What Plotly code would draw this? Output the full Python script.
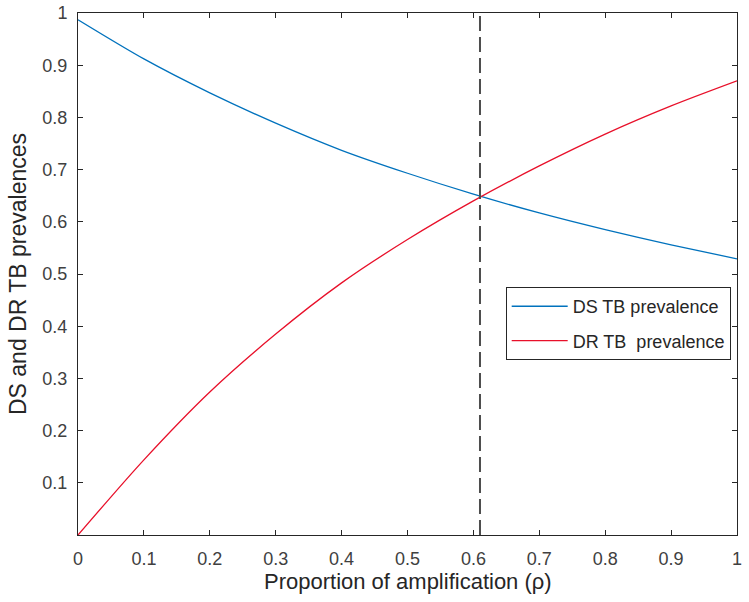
import plotly.graph_objects as go

rho = [0.0, 0.1, 0.2, 0.3, 0.4, 0.5, 0.6, 0.7, 0.8, 0.9, 1.0]
ds_prev = [0.987, 0.912, 0.847, 0.789, 0.737, 0.693, 0.653, 0.617, 0.585, 0.556, 0.529]
dr_prev = [0.0, 0.144, 0.274, 0.385, 0.483, 0.566, 0.640, 0.707, 0.768, 0.822, 0.870]
threshold = 0.61
xticks = [0, 0.1, 0.2, 0.3, 0.4, 0.5, 0.6, 0.7, 0.8, 0.9, 1]
yticks = [0.1, 0.2, 0.3, 0.4, 0.5, 0.6, 0.7, 0.8, 0.9, 1]
x_title = "Proportion of amplification (ρ)"
y_title = "DS and DR TB prevalences"

FONT = "Liberation Sans, Arial"

fig = go.Figure()
fig.add_trace(go.Scatter(x=rho, y=ds_prev, mode="lines", name="DS TB prevalence", legendgroup="a",
                         line=dict(color="#0072BD", width=1.3, shape="spline", smoothing=0.8)))
fig.add_trace(go.Scatter(x=rho, y=dr_prev, mode="lines", name="DR TB  prevalence", legendgroup="b",
                         line=dict(color="#E8102A", width=1.3, shape="spline", smoothing=0.8)))
fig.add_trace(go.Scatter(x=[threshold, threshold], y=[0, 1], mode="lines", showlegend=False,
                         line=dict(color="#4d4d4d", width=2, dash="15px,6px")))

axis_common = dict(showgrid=False, zeroline=False, showline=True, linecolor="#262626", linewidth=1,
                   mirror="allticks", ticks="inside", ticklen=5, tickcolor="#262626",
                   automargin=False,
                   tickfont=dict(size=18, color="#404040", family=FONT))

fig.update_xaxes(range=[0, 1], tickvals=xticks, ticktext=[f"{v:g}" for v in xticks],
                 ticklabelstandoff=7, **axis_common)
fig.update_yaxes(range=[0, 1], tickvals=yticks, ticktext=[f"{v:g}" for v in yticks],
                 ticklabelstandoff=6, **axis_common)

fig.add_annotation(text=x_title, xref="paper", yref="paper", x=0.5, y=-0.089,
                   xanchor="center", yanchor="middle", showarrow=False,
                   font=dict(size=22, color="#262626", family=FONT))
fig.add_annotation(text=y_title, xref="paper", yref="paper", x=-0.091, y=0.5,
                   xanchor="center", yanchor="middle", showarrow=False, textangle=-90,
                   font=dict(size=23, color="#262626", family=FONT))

fig.update_layout(
    width=749, height=602,
    margin=dict(l=78, r=12, t=13, b=67),
    plot_bgcolor="white", paper_bgcolor="white",
    font=dict(family=FONT, color="#262626"),
    legend=dict(x=0.649, y=0.475, xanchor="left", yanchor="top",
                bgcolor="white", bordercolor="#262626", borderwidth=1,
                traceorder="grouped", tracegroupgap=8,
                font=dict(size=18, color="#262626"), itemwidth=56),
)

fig.write_html("out.html", config={"displayModeBar": False},
               post_script="document.body.style.margin='0px';document.body.style.overflow='hidden';")
